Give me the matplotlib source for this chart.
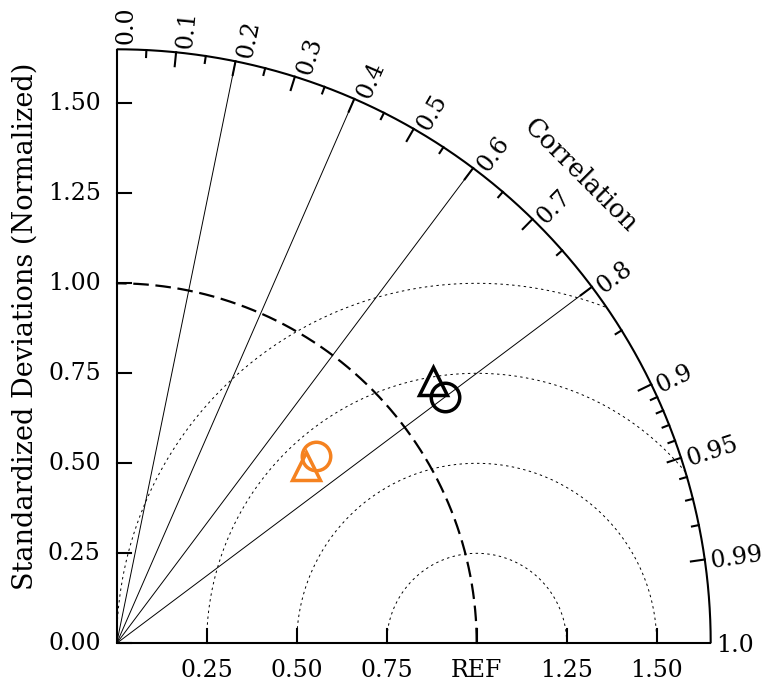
import numpy as np
import matplotlib
matplotlib.use("Agg")
import matplotlib.pyplot as plt

plt.rcParams['font.family'] = ['DejaVu Serif']

# Model statistics (normalized standard deviation and correlation with reference)
black_std = [1.14, 1.14]
black_corr = [0.80, 0.77]
orange_std = [0.76, 0.72]
orange_corr = [0.73, 0.73]
markers = ['o', '^']

# Axis ticks and labels
std_ticks = [0.25, 0.50, 0.75, 1.00, 1.25, 1.50]
std_tick_labels = ['0.25', '0.50', '0.75', 'REF', '1.25', '1.50']
ystd_ticks = [0.0, 0.25, 0.50, 0.75, 1.00, 1.25, 1.50]
ystd_tick_labels = ['0.00', '0.25', '0.50', '0.75', '1.00', '1.25', '1.50']
corr_major = [0.0, 0.1, 0.2, 0.3, 0.4, 0.5, 0.6, 0.7, 0.8, 0.9, 0.95, 0.99, 1.0]
corr_major_labels = ['0.0', '0.1', '0.2', '0.3', '0.4', '0.5', '0.6', '0.7',
                     '0.8', '0.9', '0.95', '0.99', '1.0']
corr_minor = [0.05, 0.15, 0.25, 0.35, 0.45, 0.55, 0.65, 0.75, 0.85,
              0.91, 0.92, 0.93, 0.94, 0.96, 0.97, 0.98]
corr_lines = [0.2, 0.4, 0.6, 0.8]
rms_radii = [0.25, 0.50, 0.75, 1.00]
RMAX = 1.65

ORANGE = '#F58220'

W, H = 768, 686
SCALE = 360.0          # pixels per unit
OX, OY = 116.7, 643.3  # origin location in pixels (from top-left)
PX = 1.0 / SCALE

fig = plt.figure(figsize=(W / 100, H / 100), dpi=100)
ax = fig.add_axes([0, 0, 1, 1])
ax.set_xlim(-OX / SCALE, (W - OX) / SCALE)
ax.set_ylim(-(H - OY) / SCALE, OY / SCALE)
ax.axis('off')

FS = 17       # numeric labels
FS_T = 18.5   # correlation title
FS_Y = 19.5   # y-axis title

# frame: axes and outer arc
th = np.linspace(0, np.pi / 2, 400)
ax.plot(RMAX * np.cos(th), RMAX * np.sin(th), color='black', lw=1.5, solid_capstyle='butt')
ax.plot([0, RMAX], [0, 0], color='black', lw=1.5, solid_capstyle='butt')
ax.plot([0, 0], [0, RMAX], color='black', lw=1.5, solid_capstyle='butt')

# reference arc
ax.plot(np.cos(th), np.sin(th), color='black', lw=1.6, dashes=(7, 3))

# centered RMS difference circles
phi = np.linspace(0, np.pi, 600)
for r in rms_radii:
    x = 1.0 + r * np.cos(phi)
    y = r * np.sin(phi)
    outside = np.hypot(x, y) > RMAX
    x = np.where(outside, np.nan, x)
    y = np.where(outside, np.nan, y)
    ax.plot(x, y, color='black', lw=0.7, dashes=(2.5, 3.5))

# correlation rays
for c in corr_lines:
    t = np.arccos(c)
    ax.plot([0, RMAX * np.cos(t)], [0, RMAX * np.sin(t)], color='black', lw=0.7)

# tick marks
TL_MAJ = 14 * PX
TL_MIN = 7 * PX
for v in std_ticks:
    ax.plot([v, v], [0, TL_MAJ], color='black', lw=1.5)
for v in ystd_ticks:
    ax.plot([0, TL_MAJ], [v, v], color='black', lw=1.5)
for c in corr_major[1:-1]:
    t = np.arccos(c)
    ax.plot([RMAX * np.cos(t), (RMAX - TL_MAJ) * np.cos(t)],
            [RMAX * np.sin(t), (RMAX - TL_MAJ) * np.sin(t)], color='black', lw=1.5)
for c in corr_minor:
    t = np.arccos(c)
    ax.plot([RMAX * np.cos(t), (RMAX - TL_MIN) * np.cos(t)],
            [RMAX * np.sin(t), (RMAX - TL_MIN) * np.sin(t)], color='black', lw=1.5)

# tick labels
for v, s in zip(std_ticks, std_tick_labels):
    ax.text(v, -16 * PX, s, ha='center', va='top', fontsize=FS)
for v, s in zip(ystd_ticks, ystd_tick_labels):
    ax.text(-16 * PX, v, s, ha='right', va='center', fontsize=FS)

R_LAB = RMAX + 5 * PX
for c, s in zip(corr_major, corr_major_labels):
    t = np.arccos(c)
    d = (2 + 7 * np.sin(t)) * PX
    x = R_LAB * np.cos(t) + d * np.sin(t)
    y = R_LAB * np.sin(t) - d * np.cos(t)
    ax.text(x, y, s, rotation=np.degrees(t), rotation_mode='anchor',
            ha='left', va='center', fontsize=FS)

ax.text(1.83 * np.cos(np.radians(45.2)), 1.83 * np.sin(np.radians(45.2)), 'Correlation',
        rotation=-45, rotation_mode='anchor', ha='center', va='center', fontsize=FS_T)
ax.text((25 - OX) / SCALE, (OY - 326) / SCALE, 'Standardized Deviations (Normalized)',
        rotation=90, ha='center', va='center', fontsize=FS_Y)

# model points
for sd, cc, m in zip(black_std, black_corr, markers):
    t = np.arccos(cc)
    ax.plot(sd * np.cos(t), sd * np.sin(t), marker=m, ms=20.5 if m == 'o' else 20,
            mfc='none', mec='black', mew=2.5, ls='none')
for sd, cc, m in zip(orange_std, orange_corr, markers):
    t = np.arccos(cc)
    ax.plot(sd * np.cos(t), sd * np.sin(t), marker=m, ms=20.5 if m == 'o' else 20,
            mfc='none', mec=ORANGE, mew=2.5, ls='none')

fig.savefig('out.png', dpi=100)
